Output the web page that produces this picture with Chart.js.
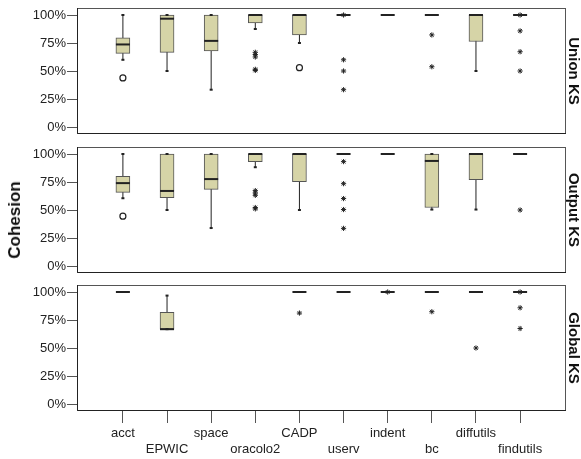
<!DOCTYPE html>
<html><head><meta charset="utf-8">
<script src="https://cdn.jsdelivr.net/npm/chart.js@4.4.0/dist/chart.umd.min.js"></script>
<style>
html,body{margin:0;padding:0;background:#fff;width:581px;height:459px;overflow:hidden;position:relative;}
canvas{position:absolute;left:0;}
#ylab{position:absolute;left:15px;top:220px;transform:translate(-50%,-50%) rotate(-90deg);font:bold 17px 'Liberation Sans',Arial,sans-serif;color:#111;white-space:nowrap;}
</style></head><body>
<canvas id="c1" width="581" height="140" style="top:0px"></canvas>
<canvas id="c2" width="581" height="140" style="top:140px"></canvas>
<canvas id="c3" width="581" height="181" style="top:278px"></canvas>
<div id="ylab">Cohesion</div>
<script>
const categories = ['acct','EPWIC','space','oracolo2','CADP','userv','indent','bc','diffutils','findutils'];
const yTicks = [0, 25, 50, 75, 100];
const panelTitles = ['Union KS', 'Output KS', 'Global KS'];

// Union KS
const unionLow  = [60, 50, 33.3, 87.5, 75, 100, 100, 100, 50, 100];
const unionQ1   = [65.7, 66.7, 68, 92.9, 82.2, 100, 100, 100, 76.3, 100];
const unionMed  = [73.7, 96.7, 76.9, 100, 100, 100, 100, 100, 100, 100];
const unionQ3   = [79.6, 100, 100, 100, 100, 100, 100, 100, 100, 100];
const unionHigh = [100, 100, 100, 100, 100, 100, 100, 100, 100, 100];
const unionCircles = [[43.8], [], [], [], [53], [], [], [], [], []];
const unionStars = [[], [], [], [66.7, 64.7, 62.5, 51.5, 50.5], [], [100, 60, 50, 33.3], [], [82.2, 53.8], [], [100, 85.8, 67.2, 50]];

// Output KS
const outputLow  = [60.5, 50, 33.9, 88.2, 50, 100, 100, 50.4, 50.4, 100];
const outputQ1   = [65.8, 61, 68.4, 93.2, 75.2, 100, 100, 52.2, 77, 100];
const outputMed  = [74, 67, 77.6, 100, 100, 100, 100, 93.8, 100, 100];
const outputQ3   = [80, 100, 100, 100, 100, 100, 100, 100, 100, 100];
const outputHigh = [100, 100, 100, 100, 100, 100, 100, 100, 100, 100];
const outputCircles = [[44.5], [], [], [], [], [], [], [], [], []];
const outputStars = [[], [], [], [67.3, 65.2, 63.1, 52.2, 51], [], [93.2, 73.5, 60.2, 50.4, 33.6], [], [], [], [50]];

// Global KS
const globalLow  = [100, 66.8, null, null, 100, 100, 100, 100, 100, 100];
const globalQ1   = [100, 66.8, null, null, 100, 100, 100, 100, 100, 100];
const globalMed  = [100, 66.8, null, null, 100, 100, 100, 100, 100, 100];
const globalQ3   = [100, 81.8, null, null, 100, 100, 100, 100, 100, 100];
const globalHigh = [100, 96.8, null, null, 100, 100, 100, 100, 100, 100];
const globalCircles = [[], [], [], [], [], [], [], [], [], []];
const globalStars = [[], [], [], [], [81.2], [], [100], [82.4], [50], [100, 85.9, 67.4]];

const FONT = 'Liberation Sans, Arial, sans-serif';

const framePlugin = {
  id: 'frame',
  beforeDatasetsDraw(chart) {
    const {ctx, chartArea: a} = chart;
    ctx.save();
    ctx.lineWidth = 1;
    ctx.strokeStyle = '#555';
    ctx.strokeRect(Math.round(a.left) + 0.5, Math.round(a.top) + 0.5, Math.round(a.right - a.left) - 1, Math.round(a.bottom - a.top) - 1);
    ctx.strokeStyle = '#222';
    ctx.beginPath();
    ctx.moveTo(Math.round(a.left) + 0.5, Math.round(a.top));
    ctx.lineTo(Math.round(a.left) + 0.5, Math.round(a.bottom) - 0.5);
    ctx.lineTo(Math.round(a.right), Math.round(a.bottom) - 0.5);
    ctx.stroke();
    ctx.restore();
  }
};

function buildDatasets(low, q1, med, q3, high, circles, stars) {
  const whisk = [], boxes = [], meds = [], caps = [], circ = [], star = [];
  categories.forEach((c, i) => {
    if (med[i] == null) return;
    if (high[i] > low[i]) {
      whisk.push({x: i, y: low[i]}, {x: i, y: high[i]}, {x: i, y: null});
      caps.push({x: i, y: low[i]}, {x: i, y: high[i]});
    }
    if (q3[i] > q1[i]) boxes.push({x: i, y: [q1[i], q3[i]]});
    meds.push({x: i, y: med[i]});
    circles[i].forEach(v => circ.push({x: i, y: v}));
    stars[i].forEach(v => star.push({x: i, y: v}));
  });
  return [
    {type: 'line', data: whisk, borderColor: '#222', borderWidth: 1, pointRadius: 0, spanGaps: false, order: 6},
    {type: 'bar', data: boxes, backgroundColor: '#d6d4a7', borderColor: '#555', borderWidth: 1, borderSkipped: false, barThickness: 14, order: 5},
    {type: 'scatter', data: meds, pointStyle: 'line', pointRadius: 7, borderWidth: 2, borderColor: '#222', order: 4},
    {type: 'scatter', data: caps, pointStyle: 'line', pointRadius: 1.5, borderWidth: 2, borderColor: '#222', order: 3},
    {type: 'scatter', data: circ, pointStyle: 'circle', pointRadius: 3, borderWidth: 1.2, borderColor: '#222', backgroundColor: '#fff', order: 2},
    {type: 'scatter', data: star, pointStyle: 'star', pointRadius: 2.6, borderWidth: 1, borderColor: '#222', order: 1}
  ];
}

function makePanel(id, datasets, title, showX, padding) {
  return new Chart(document.getElementById(id), {
    type: 'bar',
    data: {datasets},
    options: {
      responsive: false,
      animation: false,
      events: [],
      layout: {padding, autoPadding: false},
      plugins: {legend: {display: false}, tooltip: {enabled: false}},
      scales: {
        x: {
          type: 'linear', min: -1.04, max: 10.04, display: showX, offset: false,
          afterBuildTicks: s => { s.ticks = categories.map((_, i) => ({value: i})); },
          afterFit: s => { if (showX) s.height = 48; s.paddingLeft = 0; s.paddingRight = 0; },
          grid: {drawOnChartArea: false, tickLength: 12, color: '#555', offset: false},
          border: {display: false},
          ticks: {
            autoSkip: false, maxRotation: 0, minRotation: 0, padding: 3, color: '#222',
            font: {family: FONT, size: 13},
            callback: v => { const i = Math.round(v); const n = categories[i]; return i % 2 ? ['', n] : n; }
          }
        },
        y: {
          type: 'linear', min: -6.25, max: 106.25,
          afterBuildTicks: s => { s.ticks = yTicks.map(v => ({value: v})); },
          afterFit: s => { s.width = 77; s.paddingTop = 0; s.paddingBottom = 0; },
          grid: {drawOnChartArea: false, tickLength: 10, color: '#555'},
          border: {display: false},
          ticks: {padding: 1, color: '#222', font: {family: FONT, size: 13}, callback: v => v + '%'}
        },
        y2: {
          type: 'linear', position: 'right', display: true,
          afterFit: s => { s.width = 15; s.paddingTop = 0; s.paddingBottom = 0; },
          grid: {display: false}, border: {display: false}, ticks: {display: false},
          title: {display: true, text: title, color: '#111', padding: 0, font: {family: FONT, size: 15, weight: 'bold', lineHeight: 1}}
        }
      }
    },
    plugins: [framePlugin]
  });
}

makePanel('c1', buildDatasets(unionLow, unionQ1, unionMed, unionQ3, unionHigh, unionCircles, unionStars), panelTitles[0], false, {top: 8, bottom: 6, left: 0, right: 0});
makePanel('c2', buildDatasets(outputLow, outputQ1, outputMed, outputQ3, outputHigh, outputCircles, outputStars), panelTitles[1], false, {top: 7, bottom: 7, left: 0, right: 0});
makePanel('c3', buildDatasets(globalLow, globalQ1, globalMed, globalQ3, globalHigh, globalCircles, globalStars), panelTitles[2], true, {top: 7, bottom: 0, left: 0, right: 0});
</script>
</body></html>
